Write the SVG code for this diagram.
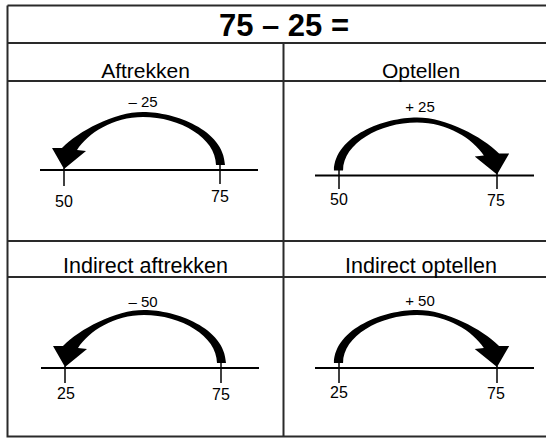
<svg xmlns="http://www.w3.org/2000/svg" xmlns:xlink="http://www.w3.org/1999/xlink" width="546" height="438" viewBox="0 0 546 438">
<style>
.grid{stroke:#2a2a2a;stroke-width:2;fill:none}
.nl{stroke:#000;stroke-width:2;fill:none}
.tick{stroke:#000;stroke-width:1.5;fill:none}
.title{font-family:"Liberation Sans",Arial,sans-serif;font-size:31px;font-weight:bold;fill:#000;text-anchor:middle}
.head{font-family:"Liberation Sans",Arial,sans-serif;font-size:21px;fill:#000;text-anchor:middle}
.num{font-family:"Liberation Sans",Arial,sans-serif;font-size:16px;fill:#000;text-anchor:middle}
.op{font-family:"Liberation Sans",Arial,sans-serif;font-size:15px;fill:#000;text-anchor:middle}
</style>
<defs>
<path id="jump" fill="#000" d="M 5,-5 C 4,-40 -45,-58 -77,-58 C -106,-58 -141,-39 -158,-22 L -168,-22 L -156,-1 L -134,-19 L -143,-20 C -132,-37 -107,-53 -77,-53 C -40,-53 -4,-32 -4,-5 Z"/>
</defs>
<rect width="546" height="438" fill="#fff"/>
<g id="table">
<path class="grid" d="M 7.5,5.5 H 548 M 7.5,5.5 V 436.5 H 548 M 7.5,43 H 548 M 7.5,81 H 548 M 7.5,241 H 548 M 7.5,277 H 548 M 283.5,43 V 436.5"/>
<text class="title" x="284" y="36">75 – 25 =</text>
<text class="head" x="145.5" y="78">Aftrekken</text>
<text class="head" x="421" y="78">Optellen</text>
<text class="head" x="145.5" y="273" style="font-size:21.5px">Indirect aftrekken</text>
<text class="head" x="421" y="273" style="font-size:21.5px">Indirect optellen</text>
</g>
<g id="aftrekken">
<line class="nl" x1="40" y1="170" x2="258" y2="170"/>
<line class="tick" x1="64" y1="168" x2="64" y2="186"/>
<line class="tick" x1="220" y1="165" x2="220" y2="184"/>
<use xlink:href="#jump" transform="translate(220,170)"/>
<text class="op" x="143" y="107">– 25</text>
<text class="num" x="64" y="207">50</text>
<text class="num" x="220" y="202">75</text>
</g>
<g id="optellen">
<line class="nl" x1="315" y1="175.5" x2="534" y2="175.5"/>
<line class="tick" x1="339" y1="170" x2="339" y2="189"/>
<line class="tick" x1="497" y1="173" x2="497" y2="189"/>
<use xlink:href="#jump" transform="translate(339,175.5) scale(-1.013,1)"/>
<text class="op" x="420" y="112">+ 25</text>
<text class="num" x="339" y="205">50</text>
<text class="num" x="496" y="206">75</text>
</g>
<g id="indirect-aftrekken">
<line class="nl" x1="41" y1="368" x2="259" y2="368"/>
<line class="tick" x1="65" y1="366" x2="65" y2="383"/>
<line class="tick" x1="221" y1="363" x2="221" y2="383"/>
<use xlink:href="#jump" transform="translate(221,368)"/>
<text class="op" x="143" y="307">– 50</text>
<text class="num" x="66" y="399">25</text>
<text class="num" x="221" y="400">75</text>
</g>
<g id="indirect-optellen">
<line class="nl" x1="315" y1="368" x2="534" y2="368"/>
<line class="tick" x1="339" y1="363" x2="339" y2="383"/>
<line class="tick" x1="497" y1="366" x2="497" y2="383"/>
<use xlink:href="#jump" transform="translate(339,368) scale(-1.013,1)"/>
<text class="op" x="420" y="306">+ 50</text>
<text class="num" x="339" y="398">25</text>
<text class="num" x="496" y="399">75</text>
</g>
</svg>
